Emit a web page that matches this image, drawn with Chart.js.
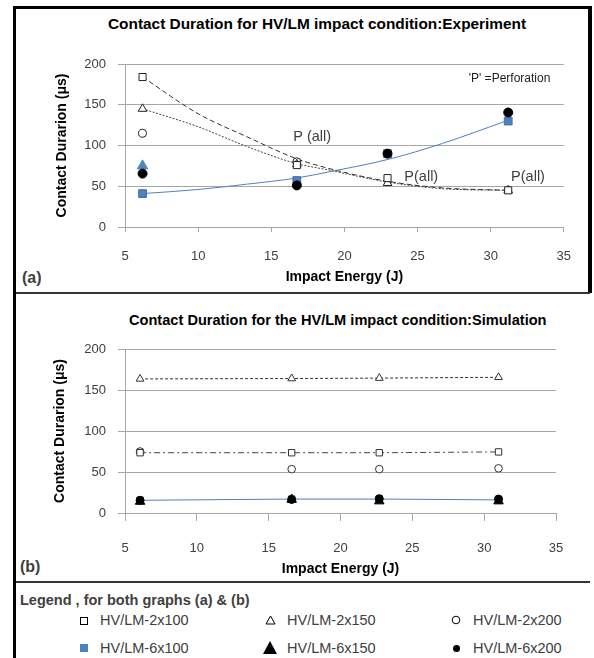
<!DOCTYPE html>
<html>
<head>
<meta charset="utf-8">
<script src="https://cdn.jsdelivr.net/npm/chart.js@4.4.1/dist/chart.umd.min.js"></script>
<style>
  body { margin: 0; background: #fff; width: 594px; height: 658px; overflow: hidden; position: relative;
         font-family: "Liberation Sans", Arial, sans-serif; }
  .bar { position: absolute; background: #000; }
  .txt { position: absolute; white-space: nowrap; line-height: 16px; }
  .ttl { font-weight: bold; font-size: 15px; color: #000; }
  .lab { font-weight: bold; font-size: 16px; color: #404040; line-height: 18px; }
  .leg { font-size: 14.5px; color: #404040; line-height: 18px; }
  canvas { position: absolute; }
  svg { position: absolute; }
</style>
</head>
<body>
<!-- frame -->
<div class="bar" style="left:13px;top:6px;width:3px;height:652px"></div>
<div class="bar" style="left:13px;top:6px;width:579px;height:3px"></div>
<div class="bar" style="left:588px;top:6px;width:4px;height:287px"></div>
<div class="bar" style="left:16px;top:292px;width:574px;height:2px;background:#333"></div>
<div class="bar" style="left:16px;top:581px;width:574px;height:2px;background:#333"></div>

<div class="txt ttl" style="left:108px;top:16px;font-size:15.4px">Contact Duration for HV/LM impact condition:Experiment</div>
<div class="txt ttl" style="left:129px;top:312px;font-size:14.6px">Contact Duration for the HV/LM impact condition:Simulation</div>
<div class="txt lab" style="left:22px;top:269px">(a)</div>
<div class="txt lab" style="left:20px;top:558px">(b)</div>

<canvas id="chartA" width="572" height="283" style="left:16px;top:9px"></canvas>
<canvas id="chartB" width="572" height="287" style="left:16px;top:294px"></canvas>

<!-- legend -->
<div class="txt leg" style="left:20px;top:591px;font-weight:bold">Legend , for both graphs (a) &amp; (b)</div>
<svg style="left:79px;top:616px" width="10" height="10"><rect x="1.5" y="1.5" width="7" height="7" fill="#fff" stroke="#000"/></svg>
<div class="txt leg" style="left:100px;top:611px">HV/LM-2x100</div>
<svg style="left:265px;top:615px" width="11" height="10"><polygon points="5.5,1 10,9 1,9" fill="#fff" stroke="#000"/></svg>
<div class="txt leg" style="left:287px;top:611px">HV/LM-2x150</div>
<svg style="left:451px;top:615px" width="10" height="10"><circle cx="5" cy="5" r="3.8" fill="#fff" stroke="#000"/></svg>
<div class="txt leg" style="left:473px;top:611px">HV/LM-2x200</div>
<svg style="left:79px;top:643px" width="10" height="10"><rect x="1" y="1" width="8" height="8" fill="#4f81bd"/></svg>
<div class="txt leg" style="left:100px;top:639px">HV/LM-6x100</div>
<svg style="left:263px;top:641px" width="14" height="13"><polygon points="7,0 14,13 0,13" fill="#000"/></svg>
<div class="txt leg" style="left:287px;top:639px">HV/LM-6x150</div>
<svg style="left:452px;top:644px" width="9" height="9"><circle cx="4.5" cy="4.5" r="3.5" fill="#000"/></svg>
<div class="txt leg" style="left:473px;top:639px">HV/LM-6x200</div>

<script>
// (a) experiment
const energyA = [6.2, 16.75, 22.95, 31.2];
const exp2x100 = [184, 76, 60, 45];
const exp2x150 = [145, 77, 54, 45];
const exp2x200 = [115, 80, null, null];
const exp6x100 = [41, 57, 90, 130];
const exp6x150 = [75, null, null, null];
const exp6x200 = [65.5, 51, 90, 140.5];

// trend lines
const trendX = [6.2, 10, 13.3, 16.7, 18.9, 23, 26.7, 31.2];
const trend2x100 = [184, 139, 111, 84, 72, 56, 48, 45];
const trend2x150 = [145, 123, 99, 78, 70, 55, 47, 45];
const trend6x100 = [41, 46, 52.5, 60, 67.5, 83, 102.5, 131];

// annotations
const noteText = ['P (all)', 'P(all)', 'P(all)', "'P' =Perforation"];
const noteX = [16.5, 24.1, 31.4, 28.5];
const noteY = [110, 61, 61, 182.5];
const noteFont = [14.5, 14.5, 14.5, 12];

// (b) simulation
const energyB = [6.05, 16.6, 22.7, 31.0];
const sim2x100 = [73.5, 73.5, 73.5, 74.5];
const sim2x150 = [163.5, 164, 164.5, 165.5];
const sim2x200 = [75, 53.5, 53.5, 54.5];
const sim6x100 = [15.5, 17, 17, 16];
const sim6x150 = [14, 16.5, 14.5, 14.5];
const sim6x200 = [15.5, 16.5, 17.5, 17];

const yTicks = [0, 50, 100, 150, 200];
const xTicks = [5, 10, 15, 20, 25, 30, 35];

const FONT = '"Liberation Sans", Arial, sans-serif';
Chart.defaults.font.family = FONT;

function pts(xs, ys) {
  return xs.map((x, i) => ({ x: x, y: ys[i] }));
}

function marker(label, data, style, r, fill, stroke) {
  return {
    label: label, data: data, showLine: false,
    pointStyle: style, pointRadius: r, pointHoverRadius: r,
    backgroundColor: fill, borderColor: stroke, pointBorderWidth: 1
  };
}

function trend(data, color, dash) {
  return {
    data: data, showLine: true, pointRadius: 0, borderWidth: 1,
    borderColor: color, borderDash: dash, cubicInterpolationMode: 'monotone'
  };
}

function axes(o) {
  return {
    x: {
      type: 'linear', min: xTicks[0], max: xTicks[xTicks.length - 1],
      afterBuildTicks: s => { s.ticks = xTicks.map(v => ({ value: v })); },
      ticks: { padding: o.xPad, color: '#404040', font: { size: 13 } },
      grid: { drawOnChartArea: false, tickLength: o.xTick, color: '#a6a6a6' },
      border: { color: '#a6a6a6' },
      title: { display: true, text: 'Impact Energy (J)', color: '#000',
               font: { size: 14, weight: 'bold' }, padding: { top: 0, bottom: o.xTitlePad } },
      afterFit: s => { s.height = o.xH; }
    },
    y: {
      min: 0, max: 200,
      afterBuildTicks: s => { s.ticks = yTicks.map(v => ({ value: v })); },
      ticks: { padding: 12, color: '#404040', font: { size: 13 } },
      grid: { color: '#a6a6a6', tickLength: 7 },
      border: { color: '#a6a6a6' },
      title: { display: true, text: 'Contact Durarion (μs)', color: '#000',
               font: { size: 14, weight: 'bold' }, padding: { top: o.yTitlePad, bottom: 0 } },
      afterFit: s => { s.width = 109; }
    }
  };
}

const notesPlugin = {
  id: 'notes',
  afterDatasetsDraw(chart) {
    const { ctx, scales } = chart;
    ctx.save();
    ctx.textAlign = 'left';
    ctx.textBaseline = 'middle';
    noteText.forEach((t, i) => {
      ctx.font = noteFont[i] + 'px ' + FONT;
      ctx.fillStyle = i === 3 ? '#222' : '#404040';
      ctx.fillText(t, scales.x.getPixelForValue(noteX[i]), scales.y.getPixelForValue(noteY[i]));
    });
    ctx.restore();
  }
};

new Chart(document.getElementById('chartA'), {
  type: 'scatter',
  data: {
    datasets: [
      marker('HV/LM-6x200', pts(energyA, exp6x200), 'circle', 4.5, '#000', '#000'),
      marker('HV/LM-6x100', pts(energyA, exp6x100), 'rect', 5.5, '#4f81bd', '#3f6fa8'),
      marker('HV/LM-6x150', pts(energyA, exp6x150), 'triangle', 6, '#4a89bf', '#4a89bf'),
      marker('HV/LM-2x100', pts(energyA, exp2x100), 'rect', 5, '#fff', '#222'),
      marker('HV/LM-2x150', pts(energyA, exp2x150), 'triangle', 5, '#fff', '#222'),
      marker('HV/LM-2x200', pts(energyA, exp2x200), 'circle', 4, '#fff', '#222'),
      trend(pts(trendX, trend6x100), '#4f81bd', []),
      trend(pts(trendX, trend2x100), '#333', [5, 3]),
      trend(pts(trendX, trend2x150), '#444', [2, 1.5])
    ]
  },
  options: {
    responsive: false, animation: false, devicePixelRatio: 1,
    layout: { padding: { top: 55, right: 13, left: 0, bottom: 0 } },
    plugins: { legend: { display: false }, tooltip: { enabled: false } },
    scales: axes({ xPad: 17, xTick: 5, xTitlePad: 6.6, xH: 65, yTitlePad: 37.6 })
  },
  plugins: [notesPlugin]
});

function simLine(ds, color, dash) {
  ds.showLine = true;
  ds.borderWidth = 1;
  ds.borderDash = dash;
  ds.segment = { borderColor: color };
  return ds;
}

new Chart(document.getElementById('chartB'), {
  type: 'scatter',
  data: {
    datasets: [
      marker('HV/LM-6x150', pts(energyB, sim6x150), 'triangle', 5.5, '#000', '#000'),
      marker('HV/LM-6x200', pts(energyB, sim6x200), 'circle', 4, '#000', '#000'),
      simLine(marker('HV/LM-6x100', pts(energyB, sim6x100), 'rect', 4.5, '#4f81bd', '#3f6fa8'), '#4f81bd', []),
      simLine(marker('HV/LM-2x100', pts(energyB, sim2x100), 'rect', 4.5, '#fff', '#333'), '#444', [6, 3, 2, 3]),
      marker('HV/LM-2x200', pts(energyB, sim2x200), 'circle', 3.8, '#fff', '#333'),
      simLine(marker('HV/LM-2x150', pts(energyB, sim2x150), 'triangle', 4.5, '#fff', '#333'), '#333', [3, 2])
    ]
  },
  options: {
    responsive: false, animation: false, devicePixelRatio: 1,
    layout: { padding: { top: 55, right: 32, left: 0, bottom: 0 } },
    plugins: { legend: { display: false }, tooltip: { enabled: false } },
    scales: axes({ xPad: 20, xTick: 8, xTitlePad: 3.6, xH: 68, yTitlePad: 35.6 })
  }
});
</script>
</body>
</html>
